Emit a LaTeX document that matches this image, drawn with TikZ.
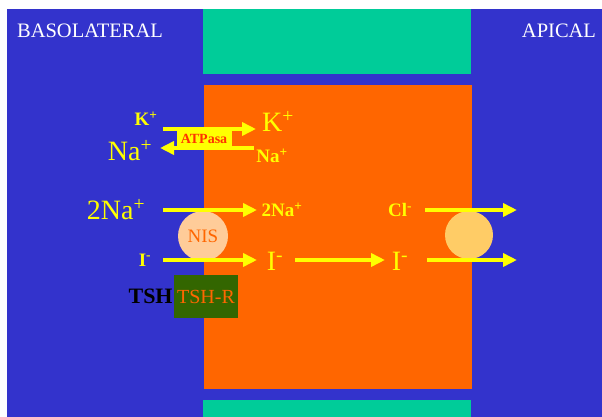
\documentclass[tikz,border=0pt]{standalone}
\usepackage{fontspec}
\setmainfont{Liberation Serif}
\usetikzlibrary{arrows.meta,positioning}

\definecolor{cellblue}{HTML}{3333CC}
\definecolor{junction}{HTML}{00CC99}
\definecolor{cytoplasm}{HTML}{FF6600}
\definecolor{ionyellow}{HTML}{FFFF00}
\definecolor{nisfill}{HTML}{FFCC99}
\definecolor{channelfill}{HTML}{FFCC66}
\definecolor{receptor}{HTML}{336600}
\definecolor{pumptext}{HTML}{FF3300}

\newcommand\bigion{\fontsize{28}{28}\selectfont}
\newcommand\smallion{\fontsize{19}{19}\selectfont\bfseries}

\tikzset{
  side/.style={text=white, font=\fontsize{20.5}{20.5}\selectfont, inner sep=0pt},
  ionbig/.style={text=ionyellow, font=\bigion, inner sep=0pt},
  ionsmall/.style={text=ionyellow, font=\smallion, inner sep=0pt},
  flux/.style={draw=ionyellow, line width=4.5pt, -{Triangle[length=14pt,width=13pt]}},
  carrier/.style={circle, inner sep=0pt, minimum size=50pt},
}

\begin{document}
\begin{tikzpicture}[x=1pt,y=-1pt]
\useasboundingbox (0,0) rectangle (602,417);
% cell and neighbours
\fill[cellblue] (7,9) rectangle (602,417);
\fill[junction] (203,9) rectangle (471,74);
\fill[junction] (203,400) rectangle (471,417);
\fill[cytoplasm] (204,85) rectangle (472,389);

\node[side] (baso) at (90,31) {BASOLATERAL};
\node[side] (apical) at (559,31) {APICAL};

% transporters
\node[carrier, fill=nisfill, text=cytoplasm, font=\fontsize{19}{19}\selectfont] (nis) at (203,236) {NIS};
\node[carrier, fill=channelfill, minimum size=48pt] (chan) at (469,235) {};
\node[fill=receptor, text=cytoplasm, minimum width=64pt, minimum height=43pt, inner sep=0pt,
  font=\fontsize{20}{20}\selectfont] (tshr) at (206,296.5) {TSH-R};
\node[font=\fontsize{22}{22}\selectfont\bfseries, inner sep=0pt, left=1pt of tshr] (tsh) {TSH};

% ions
\node[ionsmall] (kbaso) at (146,119) {K\textsuperscript{+}};
\node[ionbig] (kcell) at (278,121) {K\textsuperscript{+}};
\node[ionbig] (nabaso) at (130,151) {Na\textsuperscript{+}};
\node[ionsmall] (nacell) at (272,156) {Na\textsuperscript{+}};
\node[ionbig] (twonabaso) at (116,210) {2Na\textsuperscript{+}};
\node[ionsmall] (twonacell) at (282,210) {2Na\textsuperscript{+}};
\node[ionsmall] (ibaso) at (145,260) {I\textsuperscript{-}};
\node[ionbig] (icell) at (275,261) {I\textsuperscript{-}};
\node[ionbig] (iapic) at (400,261) {I\textsuperscript{-}};
\node[ionsmall] (cl) at (400,210) {Cl\textsuperscript{-}};

% arrow ends
\coordinate (kin) at (163,129);
\coordinate (kout) at (256,129);
\coordinate (nain) at (254,148);
\coordinate (naout) at (160,148);
\coordinate (twonain) at (163,210);
\coordinate (twonaout) at (257,210);
\coordinate (iin) at (163,260);
\coordinate (iout) at (257,260);
\coordinate (imidin) at (295,260);
\coordinate (imidout) at (385,260);
\coordinate (clin) at (425,210);
\coordinate (clout) at (517,210);
\coordinate (iapin) at (427,260);
\coordinate (iapout) at (517,260);

\draw[flux] (kin) -- (kout);
\draw[flux] (nain) -- (naout);
\node[fill=ionyellow, text=pumptext, font=\fontsize{14}{14}\selectfont\bfseries,
  minimum width=55pt, minimum height=19pt, inner sep=0pt] (atpasa) at (204,138.5) {ATPasa};
\draw[flux] (twonain) -- (twonaout);
\draw[flux] (iin) -- (iout);
\draw[flux] (imidin) -- (imidout);
\draw[flux] (clin) -- (clout);
\draw[flux] (iapin) -- (iapout);
\end{tikzpicture}
\end{document}
